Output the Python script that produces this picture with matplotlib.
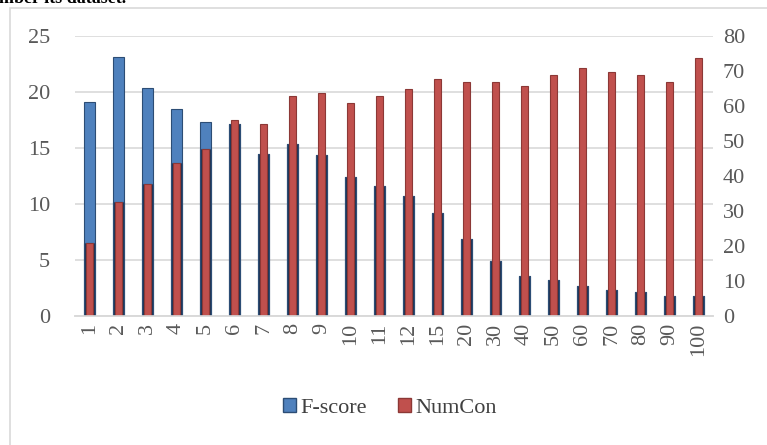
import matplotlib

matplotlib.use("Agg")

import matplotlib.pyplot as plt
from matplotlib.patches import Patch, Rectangle

plt.rcParams["font.family"] = ["Liberation Serif", "DejaVu Serif"]

# values
thresholds = ["1", "2", "3", "4", "5", "6", "7", "8", "9", "10", "11", "12",
              "15", "20", "30", "40", "50", "60", "70", "80", "90", "100"]
f_score = [19.1, 23.1, 20.4, 18.5, 17.3, 17.1, 14.5, 15.4, 14.4, 12.4, 11.6,
           10.7, 9.2, 6.9, 4.9, 3.6, 3.2, 2.7, 2.3, 2.1, 1.8, 1.8]
num_con = [20.8, 32.7, 37.7, 43.6, 47.8, 55.9, 54.9, 62.9, 63.8, 60.9, 62.9,
           64.9, 67.8, 66.9, 66.9, 65.7, 69.0, 70.9, 69.8, 69.0, 66.9, 73.8]

LEFT_MAX = 25
RIGHT_MAX = 80
BLUE = "#4F81BD"
BLUE_EDGE = "#2C4D75"
BLUE_DARK = "#1F3556"
RED = "#C0504D"
RED_EDGE = "#8C3836"
GRID = "#D9D9D9"
TEXT = "#595959"

W, H = 767, 445
fig = plt.figure(figsize=(W / 100, H / 100), dpi=100)

# outer chart border (partly cut off at the right and bottom)
fig.patches.append(Rectangle((10 / W, -0.05), 1.0, 1 - 8 / H + 0.05,
                             transform=fig.transFigure, fill=False,
                             edgecolor=GRID, linewidth=1.2))

# cropped caption line from the page above the chart
fig.text(-1 / W, 1 - 3 / H, "mber its dataset.", fontsize=13,
         fontweight="bold", color="black", va="baseline", ha="left")

ax = fig.add_axes([75 / W, 1 - 316 / H, 638 / W, 280 / H])
ax2 = ax.twinx()

x = list(range(len(thresholds)))
ax.bar(x, f_score, width=0.38, color=BLUE, edgecolor=BLUE_EDGE,
       linewidth=0.8, zorder=2)
# the part of the blue bar in the shadow of the red bar looks dark
shadow = [min(f, n * LEFT_MAX / RIGHT_MAX) for f, n in zip(f_score, num_con)]
ax.bar(x, shadow, width=0.38, color=BLUE_DARK, edgecolor=BLUE_EDGE,
       linewidth=0.8, zorder=3)
ax2.bar(x, num_con, width=0.22, color=RED, edgecolor=RED_EDGE,
        linewidth=0.8, zorder=2)

ax.set_xlim(-0.5, len(thresholds) - 0.5)
ax.set_ylim(0, LEFT_MAX)
ax2.set_ylim(0, RIGHT_MAX)
ax.set_yticks(range(0, LEFT_MAX + 1, 5))
ax2.set_yticks(range(0, RIGHT_MAX + 1, 10))
ax.set_xticks(x)
ax.set_xticklabels(thresholds, rotation=90)

ax.grid(axis="y", color=GRID, linewidth=1.2, zorder=0)
ax.set_axisbelow(True)
for a in (ax, ax2):
    for side in ("top", "left", "right"):
        a.spines[side].set_visible(False)
    a.spines["bottom"].set_color(GRID)
    a.spines["bottom"].set_linewidth(1.2)

ax.tick_params(axis="y", length=0, pad=18, labelsize=16, labelcolor=TEXT)
ax2.tick_params(axis="y", length=0, pad=7, labelsize=16, labelcolor=TEXT)
ax.tick_params(axis="x", length=0, pad=5, labelsize=16, labelcolor=TEXT)

handles = [Patch(facecolor=BLUE, edgecolor=BLUE_EDGE, label="F-score"),
           Patch(facecolor=RED, edgecolor=RED_EDGE, label="NumCon")]
fig.legend(handles=handles, loc="center", bbox_to_anchor=(390 / W, 1 - 408 / H),
           ncol=2, frameon=False, fontsize=16, handlelength=0.6,
           handleheight=0.6, handletextpad=0.2, columnspacing=1.4,
           labelcolor="#404040")

fig.savefig("out.png", dpi=100)
